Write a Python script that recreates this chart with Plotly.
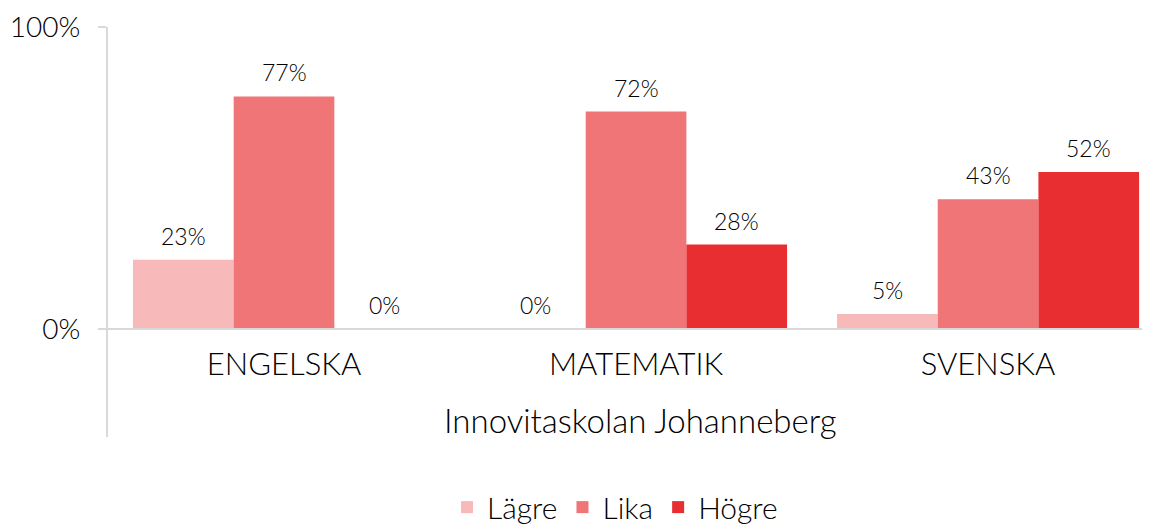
import plotly.graph_objects as go

categories = ["ENGELSKA", "MATEMATIK", "SVENSKA"]
series_names = ["Lägre", "Lika", "Högre"]
lagre = [23, 0, 5]
lika = [77, 72, 43]
hogre = [0, 28, 52]
colors = ["#F7B9BA", "#F07577", "#E82E31"]
x_title = "Innovitaskolan Johanneberg"
y_tickvals = [0, 100]
y_ticktext = ["0%", "100%"]

values = [lagre, lika, hogre]
FONT = "Lato, 'Open Sans', sans-serif"
TXT = "#000000"
GRID = "#D9D9D9"
W = 300
bargap = 0.142

fig = go.Figure()
for name, vals, col in zip(series_names, values, colors):
    fig.add_trace(go.Bar(
        name=name, x=categories, y=vals, marker=dict(color=col, line=dict(width=0)),
        hoverinfo="skip",
    ))

nser = len(values)
bw = (1 - bargap) / nser
annotations = []
for i, vals in enumerate(values):
    for j, v in enumerate(vals):
        annotations.append(dict(
            x=j + (i - (nser - 1) / 2) * bw, y=v, xref="x", yref="y",
            text=f"{v}%", showarrow=False, yanchor="middle", yshift=24,
            font=dict(family=FONT, size=23, color=TXT, weight=W),
        ))
annotations.append(dict(
    x=0.5115, y=0.0415, xref="paper", yref="paper", text=x_title, showarrow=False,
    xanchor="center", yanchor="middle", font=dict(family=FONT, size=33, color=TXT, weight=W),
))

# the page body adds an 8px offset, so margins are reduced by 8px on top/left
fig.update_layout(
    width=1150, height=527,
    margin=dict(l=100, r=8, t=19, b=98, autoexpand=False),
    plot_bgcolor="white", paper_bgcolor="white",
    barmode="group", bargap=bargap, bargroupgap=0,
    font=dict(family=FONT, color=TXT, weight=W),
    showlegend=True,
    legend=dict(orientation="h", x=0.4866, xanchor="center", y=-0.171, yanchor="middle",
                font=dict(family=FONT, size=30, color=TXT, weight=W), itemwidth=30,
                traceorder="normal"),
    annotations=annotations,
    xaxis=dict(
        anchor="free", position=108 / 410, showline=True, linecolor=GRID, linewidth=2,
        showgrid=False, ticks="", tickfont=dict(family=FONT, size=31, color=TXT, weight=W),
        ticklabelstandoff=8, range=[-0.5, 2.46], zeroline=False, automargin=False,
    ),
    yaxis=dict(
        range=[-35.7, 100], showline=True, linecolor=GRID, linewidth=2,
        showgrid=False, zeroline=False, ticks="outside", ticklen=8, tickcolor=GRID,
        tickwidth=2, tickvals=y_tickvals, ticktext=y_ticktext, automargin=False,
        ticklabelstandoff=12,
        tickfont=dict(family=FONT, size=28, color=TXT, weight=W),
    ),
)

fig.write_html("out.html")
